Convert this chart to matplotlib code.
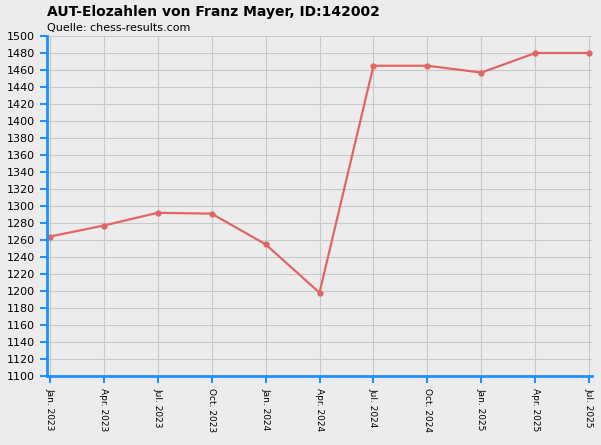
import matplotlib
matplotlib.use("Agg")
import matplotlib.pyplot as plt

labels = ["Jan. 2023","Apr. 2023","Jul. 2023","Oct. 2023","Jan. 2024","Apr. 2024",
          "Jul. 2024","Oct. 2024","Jan. 2025","Apr. 2025","Jul. 2025"]
elo = [1264, 1277, 1292, 1291, 1255, 1198, 1465, 1465, 1457, 1480, 1480]

fig = plt.figure(figsize=(6.01, 4.45), dpi=100)
fig.patch.set_facecolor("#ececec")
ax = fig.add_axes([47/601, 1-376/445, (592-47)/601, (376-36)/445])
ax.set_facecolor("#ececec")
x = list(range(len(labels)))
ax.plot(x, elo, color="#e06666", lw=1.6, marker="o", ms=3.5)
ax.set_xlim(-0.05, len(labels)-1+0.05)
ax.set_ylim(1100, 1500)
ax.set_yticks(range(1100, 1501, 20))
ax.set_xticks(x)
ax.set_xticklabels(labels, rotation=270, fontsize=6.5)
ax.tick_params(axis="y", labelsize=8, colors="#1e90ff", labelcolor="black", length=5, width=1.5)
ax.tick_params(axis="x", colors="#1e90ff", labelcolor="black", length=5, width=1.5)
ax.grid(True, color="#c8c8c8", lw=0.8)
for s in ["top", "right"]:
    ax.spines[s].set_visible(False)
for s in ["left", "bottom"]:
    ax.spines[s].set_color("#1e90ff")
    ax.spines[s].set_linewidth(2)
fig.text(47/601, 1-12/445, "AUT-Elozahlen von Franz Mayer, ID:142002", fontsize=10,
         fontweight="bold", va="center")
fig.text(47/601, 1-28/445, "Quelle: chess-results.com", fontsize=8, va="center")
fig.savefig("out.png", dpi=100, facecolor=fig.get_facecolor())
